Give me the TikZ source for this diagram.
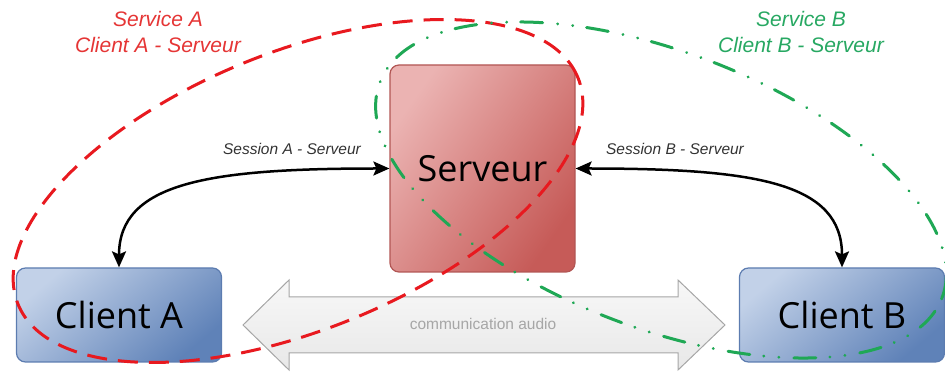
\documentclass[tikz,border=0pt]{standalone}
\usepackage{fontspec}
\setmainfont{Liberation Sans}
\newfontfamily\boxfont{Open Sans}
\usetikzlibrary{arrows.meta, positioning}
\definecolor{serverlight}{HTML}{EBB3B2}
\definecolor{serverdark}{HTML}{C65B58}
\definecolor{serverborder}{HTML}{B25654}
\definecolor{clientlight}{HTML}{C2D1E8}
\definecolor{clientdark}{HTML}{5F82B8}
\definecolor{clientborder}{HTML}{5C7CB0}
\definecolor{servicered}{HTML}{E8191F}
\definecolor{servicegreen}{HTML}{1FA855}
\definecolor{labelred}{HTML}{E53535}
\definecolor{labelgreen}{HTML}{27A862}
\definecolor{audiogray}{HTML}{A6A6A6}
\tikzset{
    box/.style={rectangle, rounded corners=9pt, line width=1.2pt, font=\boxfont\fontsize{36}{40}\selectfont},
    serverbox/.style={box, draw=serverborder, top color=serverlight, bottom color=serverdark, shading angle=55, minimum width=185pt, minimum height=207pt},
    clientbox/.style={box, draw=clientborder, top color=clientlight, bottom color=clientdark, shading angle=40, minimum width=205pt, minimum height=94pt},
    sessionlabel/.style={text=black!80, font=\itshape\fontsize{15.5}{18}\selectfont},
    servicelabel/.style={align=center, font=\itshape\fontsize{21}{26}\selectfont},
    audiolabel/.style={text=audiogray, font=\fontsize{15.5}{18}\selectfont},
    arrow/.style={{Stealth[length=16pt,width=14pt,inset=3pt]}-{Stealth[length=16pt,width=14pt,inset=3pt]}, line width=2.5pt},
    audioarrow/.style={draw=audiogray, line width=1pt, top color=black!3, bottom color=black!9},
    dashedline/.style={line width=3pt, draw=servicered, dash pattern=on 20pt off 11pt},
    dashdotline/.style={line width=3pt, draw=servicegreen, line cap=round, dash pattern=on 22pt off 14pt on 0.1pt off 15pt on 0.1pt off 15pt}
}
\begin{document}
\begin{tikzpicture}[x=1pt, y=1pt]
    \useasboundingbox (0,0) rectangle (945,372);

    % Boxes
    \node[serverbox] (server) at (482.5,203.5) {Serveur};
    \node[clientbox] (client_a) at (119,57) {Client A};
    \node[clientbox] (client_b) at (842,57) {Client B};

    % Audio link
    \draw[audioarrow] (243,47) -- (289,92) -- (289,75) -- (678,75) -- (678,92) -- (725,47)
        -- (678,2) -- (678,19) -- (289,19) -- (289,2) -- cycle;
    \node[audiolabel] (audio) at (483,48) {communication audio};

    % Sessions
    \draw[arrow] (client_a.north) .. controls +(0,85) and +(-180,0) .. (server.west);
    \draw[arrow] (client_b.north) .. controls +(0,85) and +(180,0) .. (server.east);
    \node[sessionlabel] (session_a) at (292,223) {Session A - Serveur};
    \node[sessionlabel] (session_b) at (675,223) {Session B - Serveur};

    % Services
    \draw[dashedline, rotate around={22:(298,181)}] (298,181) ellipse [x radius=302pt, y radius=139pt];
    \draw[dashdotline, rotate around={-21:(661,182)}] (661,182) ellipse [x radius=301pt, y radius=138pt];
    \node[servicelabel, text=labelred] (service_a) at (158,340) {Service A\\Client A - Serveur};
    \node[servicelabel, text=labelgreen] (service_b) at (801,340) {Service B\\Client B - Serveur};
\end{tikzpicture}
\end{document}
